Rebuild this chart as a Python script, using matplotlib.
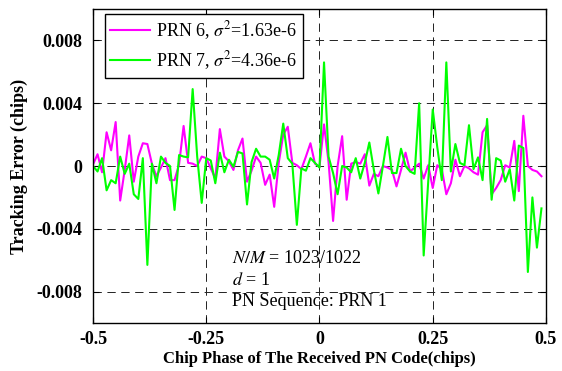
import numpy as np
import matplotlib
matplotlib.use("Agg")
import matplotlib.pyplot as plt

plt.rcParams["font.family"] = ["Liberation Serif", "DejaVu Serif"]
plt.rcParams["mathtext.fontset"] = "stix"
plt.rcParams["lines.scale_dashes"] = False

# chip phase (chips)
phase = np.round(np.arange(-0.5, 0.495, 0.01), 2)

# tracking error in units of 1e-3 chips
prn6 = [0.1, 0.75, -0.4, 2.15, 1.0, 2.8, -2.2, -0.25, 1.95, -1.0,
        0.6, 1.45, 1.4, 0.15, -0.65, -0.1, 0.5, -0.9, -0.9, 0.1,
        2.55, 0.2, 0.15, 0.0, 0.6, 0.5, -0.15, -0.8, 2.35, 0.6,
        0.3, -0.25, 1.0, 1.75, -1.0, -0.3, 0.6, 0.2, -1.2, -0.55,
        -2.6, 0.2, 2.0, 2.5, 0.2, 0.05, -0.2, 0.6, 1.45, 0.15,
        -0.05, 2.65, 0.25, -3.5, 0.0, 1.9, -2.15, 0.15, 0.25, 0.15,
        0.75, -1.25, -0.5, -0.65, 0.0, -0.1, -0.25, -1.3, -0.25, 0.85,
        -0.35, -0.1, 0.15, -0.8, 0.05, -1.4, 0.05, -0.2, -1.8, -1.1,
        0.4, -0.65, 0.0, -0.15, -0.4, -0.55, 2.15, 2.6, -1.8, -1.4,
        -0.9, 0.05, -0.1, 1.6, -1.6, 3.2, 0.0, -0.25, -0.35, -0.65]
prn7 = [0.0, -0.35, 0.5, -1.55, -0.9, -1.1, 0.6, -0.5, 0.15, -1.8,
        -2.1, 0.5, -6.3, 0.15, -1.1, 0.6, 0.2, 0.0, -2.8, 0.7,
        0.6, 0.55, 4.9, 0.6, -2.35, 0.5, 0.35, -1.1, 0.85, -0.4,
        0.4, -0.05, 0.9, 0.8, -2.45, 0.25, 1.1, 0.6, 0.6, 0.4,
        -0.8, 0.7, 2.7, 0.5, 0.15, -3.75, -0.15, -0.3, 0.5, 0.2,
        -0.1, 6.6, 0.6, -0.45, -1.8, 0.0, -0.1, -0.4, 0.5, -0.8,
        0.2, 1.5, -0.25, -1.75, 0.0, 1.85, -0.45, -0.45, 1.1, 0.0,
        -0.35, -0.5, 4.0, -5.7, -1.0, 3.6, 1.2, -0.9, 6.6, -0.35,
        1.4, 0.2, 0.05, 2.6, -0.2, 0.55, -0.9, 3.0, -2.15, 0.5,
        0.35, -1.0, -0.2, -2.2, 1.3, 1.15, -6.75, -2.0, -5.2, -2.7]

labels = [r"PRN 6, $\sigma^2$=1.63e-6", r"PRN 7, $\sigma^2$=4.36e-6"]
xticks = [-0.5, -0.25, 0, 0.25, 0.5]
xticklabels = ["-0.5", "-0.25", "0", "0.25", "0.5"]
yticks = [-0.008, -0.004, 0, 0.004, 0.008]
yticklabels = ["-0.008", "-0.004", "0", "0.004", "0.008"]

fig = plt.figure(figsize=(5.62, 3.71), dpi=100)
ax = fig.add_axes([0.1655, 0.1294, 0.806, 0.8463])

ax.plot(phase, np.array(prn6) * 1e-3, color="#ff00ff", lw=1.5, label=labels[0])
ax.plot(phase, np.array(prn7) * 1e-3, color="#00ff00", lw=1.5, label=labels[1])

ax.set_xlim(-0.5, 0.5)
ax.set_ylim(-0.01, 0.01)
ax.set_xticks(xticks)
ax.set_xticklabels(xticklabels, fontweight="bold", fontsize=13)
ax.set_yticks(yticks)
ax.set_yticklabels(yticklabels, fontweight="bold", fontsize=13)
ax.tick_params(direction="in", top=True, right=True, length=4, width=0.8)
ax.tick_params(axis="x", pad=6)
ax.tick_params(axis="y", pad=8)
ax.grid(True, color="#222222", ls=(0, (6, 4)), lw=0.7)
for s in ax.spines.values():
    s.set_linewidth(1.0)

ax.set_xlabel("Chip Phase of The Received PN Code(chips)", fontweight="bold",
              fontsize=12, labelpad=2)
ax.set_ylabel("Tracking Error (chips)", fontweight="bold", fontsize=13, labelpad=6)

leg = ax.legend(loc="upper left", fontsize=13, fancybox=False, framealpha=1,
                edgecolor="black", handlelength=2.2, handletextpad=0.35,
                labelspacing=0.4, borderpad=0.3,
                borderaxespad=0, bbox_to_anchor=(0.0265, 0.984))
leg.get_frame().set_linewidth(1.0)

ax.text(-0.193, -0.0059, r"$N/M$ = 1023/1022", fontsize=13, va="center")
ax.text(-0.193, -0.0073, r"$d$ = 1", fontsize=13, va="center")
ax.text(-0.193, -0.0086, "PN Sequence: PRN 1", fontsize=13, va="center")

fig.savefig("out.png", dpi=100)
